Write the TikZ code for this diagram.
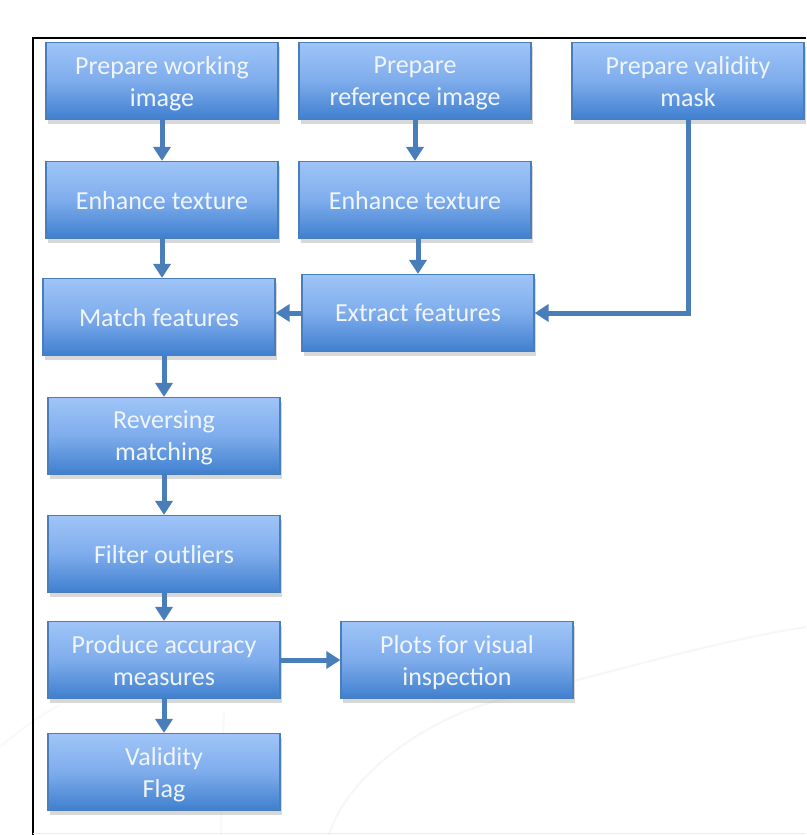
\documentclass[tikz,border=0pt]{standalone}
\usepackage{fontspec}
\setmainfont{Carlito}
\usetikzlibrary{arrows.meta,shadows,calc}
\definecolor{boxtop}{HTML}{9FC5F8}
\definecolor{boxmid}{HTML}{7EACEC}
\definecolor{boxbot}{HTML}{3F7FCF}
\definecolor{boxline}{HTML}{4A7EBB}
\definecolor{arrowc}{HTML}{4A7EBB}
\definecolor{txt}{HTML}{F0F5FC}
\tikzset{
  procbox/.style={draw=boxline, line width=1.2pt, rectangle,
    minimum width=232pt, minimum height=77pt, inner sep=2pt,
    top color=boxtop, bottom color=boxbot, middle color=boxmid,
    text=txt, align=center, font=\fontsize{26}{32}\selectfont,
    text depth=0pt,
    drop shadow={opacity=0.3, shadow xshift=2pt, shadow yshift=-4pt}},
  flow/.style={draw=arrowc, line width=5pt,
    -{Triangle[width=17pt,length=14pt]}}
}
\begin{document}
\begin{tikzpicture}[x=1pt,y=-1pt]
\useasboundingbox (0,0) rectangle (806,835);
\fill[white] (0,0) rectangle (806,835);
% faint background arcs
\draw[gray!6, line width=2pt] (329,835) .. controls (345,780) and (420,720) .. (500,700) .. controls (600,675) and (720,640) .. (806,627);
\draw[gray!5, line width=2pt] (0,747) .. controls (20,730) and (40,715) .. (60,705);
\draw[gray!5, line width=2pt] (221,835) .. controls (222,790) and (222,750) .. (224,712);
% frame
\draw[black, line width=1.6pt] (33,835) -- (33,38) -- (806,38);
\draw[gray!15, line width=1pt] (33,833) -- (806,833);
% nodes
\node[procbox] (wi) at (162,81) {Prepare working\\image};
\node[procbox] (ri) at (415,81) {Prepare\\reference image};
\node[procbox] (vm) at (688,81) {Prepare validity\\mask};
\node[procbox] (et1) at (162,200) {Enhance texture};
\node[procbox] (et2) at (415,200) {Enhance texture};
\node[procbox] (mf) at (159,317) {Match features};
\node[procbox] (ef) at (418,313) {Extract features};
\node[procbox] (rm) at (164,436) {Reversing\\matching};
\node[procbox] (fo) at (164,554) {Filter outliers};
\node[procbox] (pa) at (164,660) {Produce accuracy\\measures};
\node[procbox] (pv) at (457,660) {Plots for visual\\inspection};
\node[procbox] (vf) at (164,772) {Validity\\Flag};
% connectors
\draw[flow] (wi.south) -- (et1.north);
\draw[flow] (ri.south) -- (et2.north);
\draw[flow] (et1.south) -- (et1.south |- mf.north);
\draw[flow] (ef.north |- et2.south) -- (ef.north);
\draw[flow] (vm.south) |- (ef.east);
\draw[flow] (ef.west) -- (mf.east |- ef.west);
\draw[flow] (rm.north |- mf.south) -- (rm.north);
\draw[flow] (rm.south) -- (fo.north);
\draw[flow] (fo.south) -- (pa.north);
\draw[flow] (pa.east) -- (pv.west);
\draw[flow] (pa.south) -- (vf.north);
\end{tikzpicture}
\end{document}
